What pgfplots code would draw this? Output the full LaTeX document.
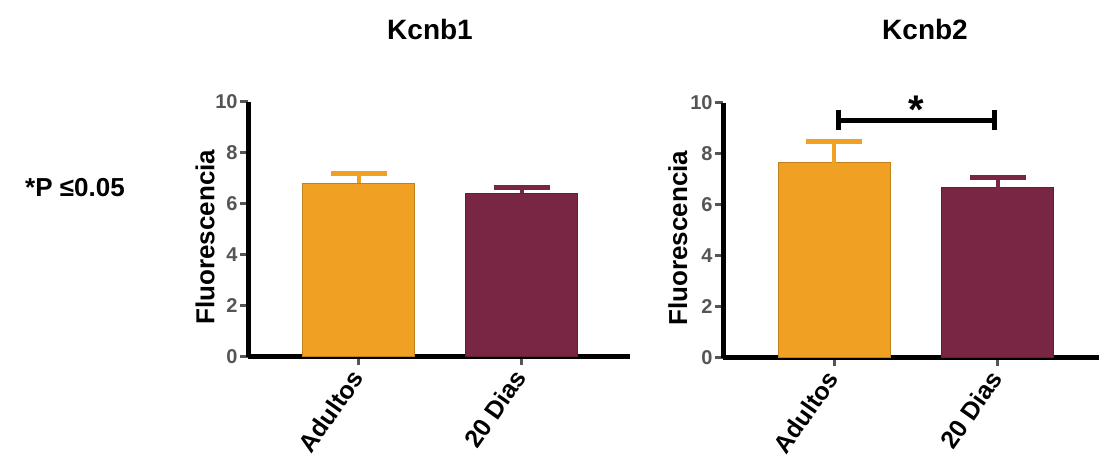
\documentclass[border=0pt]{standalone}
\usepackage{fontspec}
\setmainfont{Liberation Sans}
\usepackage{pgfplots}
\pgfplotsset{compat=1.18}
\definecolor{orng}{RGB}{240,160,34}
\definecolor{maroon}{RGB}{121,38,69}
\definecolor{tickgray}{RGB}{85,85,85}
\pgfplotsset{panel/.style={
  scale only axis, height=127.5pt,
  ymin=0, ymax=10, ytick={0,2,...,10},
  axis x line=bottom, axis y line=left,
  axis line style={-, line width=2.5pt, black},
  xtick={0,1}, xticklabels={Adultos,20 Dias},
  tick align=outside, major tick length=4pt,
  tick style={tickgray, line width=1.5pt},
  yticklabel style={font=\fontsize{10}{12}\selectfont\bfseries, text=tickgray, inner sep=1pt},
  xticklabel style={rotate=55, anchor=east, inner sep=1pt, xshift=-2.5pt, yshift=-1.7pt, font=\fontsize{12.5}{15}\selectfont\bfseries},
  /pgf/number format/assume math mode=true,
  ylabel={Fluorescencia},
  ylabel style={font=\fontsize{13}{15}\selectfont\bfseries, rotate=0},
  ybar, bar width=56pt, bar shift=0pt,
  clip=false,
  error bars/y dir=plus, error bars/y explicit,
},
orngbar/.style={fill=orng, draw=orng!80!black, line width=0.5pt,
  error bars/error bar style={orng, line width=2pt},
  error bars/error mark options={orng, line width=2.5pt, mark size=14pt, rotate=90}},
marbar/.style={fill=maroon, draw=maroon!80!black, line width=0.5pt,
  error bars/error bar style={maroon, line width=2pt},
  error bars/error mark options={maroon, line width=2.5pt, mark size=14pt, rotate=90}},
}
\begin{document}
\begin{tikzpicture}
\useasboundingbox (0,0) rectangle (549.5pt,237.5pt);
\node[font=\fontsize{14}{16}\selectfont\bfseries] at (215pt,222.5pt) {Kcnb1};
\node[font=\fontsize{14}{16}\selectfont\bfseries] at (462.5pt,222.5pt) {Kcnb2};
\node[font=\fontsize{13}{15}\selectfont\bfseries] at (37.5pt,143.5pt) {*P ≤0.05};
\begin{axis}[panel, at={(124pt,59pt)}, anchor=south west, width=191pt,
  xmin=-0.681, xmax=1.663,
  ylabel style={at={(axis description cs:-0.1126,0.47)}, anchor=center}]
\addplot[orngbar] coordinates {(0,6.82) +- (0,0.38)};
\addplot[marbar] coordinates {(1,6.43) +- (0,0.20)};
\end{axis}
\begin{axis}[panel, at={(361.5pt,58.5pt)}, anchor=south west, width=188pt,
  xmin=-0.677, xmax=1.616,
  ylabel style={at={(axis description cs:-0.12,0.47)}, anchor=center}]
\addplot[orngbar] coordinates {(0,7.65) +- (0,0.85)};
\addplot[marbar] coordinates {(1,6.67) +- (0,0.39)};
\draw[line width=2.5pt] (axis cs:0.03,9.33) -- (axis cs:0.98,9.33);
\draw[line width=2.5pt] (axis cs:0.03,8.93) -- (axis cs:0.03,9.73);
\draw[line width=2.5pt] (axis cs:0.98,8.93) -- (axis cs:0.98,9.73);
\node[font=\fontsize{20}{20}\selectfont\bfseries] at (axis cs:0.5,9.75) {*};
\end{axis}
\end{tikzpicture}
\end{document}
